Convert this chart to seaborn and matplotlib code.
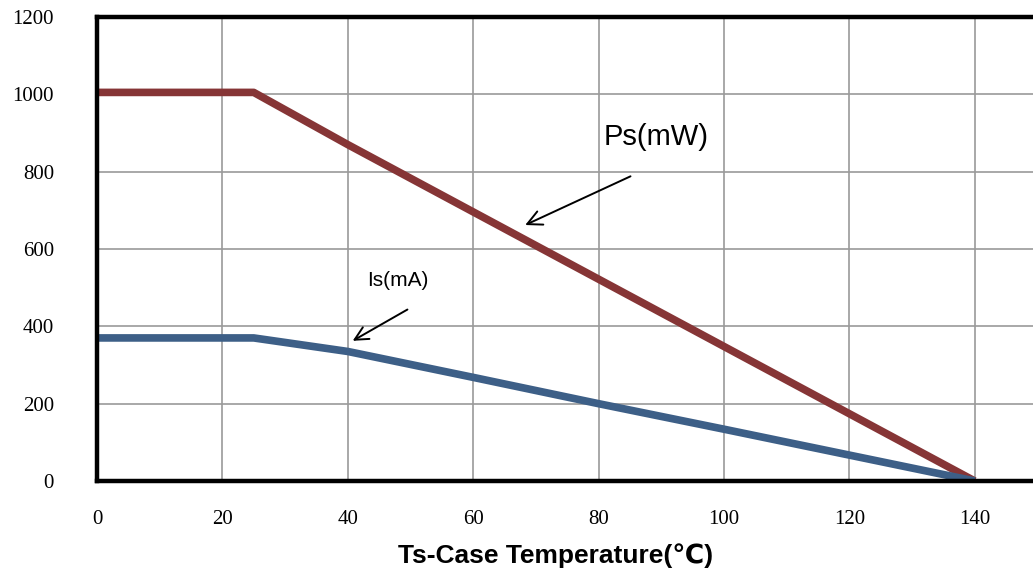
import numpy as np
import pandas as pd
import seaborn as sns
import matplotlib.pyplot as plt

# Data
temp = [0, 25, 40, 60, 80, 100, 120, 140]
ps_mw = [1005, 1005, 870, 696, 522, 348, 174, 0]
is_ma = [370, 370, 335, 268, 200, 134, 67, 0]

x_ticks = [0, 20, 40, 60, 80, 100, 120, 140]
y_ticks = [0, 200, 400, 600, 800, 1000, 1200]

PS_COLOR = "#863536"
IS_COLOR = "#3d5f87"

df = pd.DataFrame({"temp": temp, "Ps": ps_mw, "Is": is_ma})

sns.set_style("white")
plt.rcParams["font.family"] = ["Liberation Sans", "DejaVu Sans"]
plt.rcParams["text.color"] = "black"
plt.rcParams["xtick.color"] = "black"
plt.rcParams["ytick.color"] = "black"

fig = plt.figure(figsize=(10.33, 5.79), dpi=100)
ax = fig.add_axes([97 / 1033, 1 - 481 / 579, 1 - 97 / 1033, (481 - 17) / 579])

# grid first so the curves sit on top
ax.set_xticks(x_ticks)
ax.set_yticks(y_ticks)
ax.grid(True, color="#9a9a9a", linewidth=1.2)
ax.set_axisbelow(True)

sns.lineplot(data=df, x="temp", y="Ps", ax=ax, color=PS_COLOR, linewidth=5.5,
             solid_capstyle="butt")
sns.lineplot(data=df, x="temp", y="Is", ax=ax, color=IS_COLOR, linewidth=5.5,
             solid_capstyle="butt")

ax.set_xlim(0, 149.3)
ax.set_ylim(0, 1200)

for side in ["left", "top", "bottom"]:
    ax.spines[side].set_color("black")
    ax.spines[side].set_linewidth(3.2)
    ax.spines[side].set_zorder(5)
ax.spines["right"].set_visible(False)

ax.tick_params(axis="both", length=0, labelcolor="black")
ax.tick_params(axis="x", pad=21)
ax.tick_params(axis="y", pad=31)
ax.set_xticklabels([str(t) for t in x_ticks], fontsize=15, family="Liberation Serif")
ax.set_yticklabels([str(t) for t in y_ticks], fontsize=15, family="Liberation Serif")
ax.set_xlabel("")
ax.set_ylabel("")

# curve labels with arrows
ax.annotate("", xy=(67.9, 659), xytext=(85.5, 791),
            arrowprops=dict(arrowstyle="->", color="black", lw=1.4, mutation_scale=26))
ax.text(89.2, 889, "Ps(mW)", fontsize=21, ha="center", va="center", color="black")

ax.annotate("", xy=(40.4, 359), xytext=(49.9, 447),
            arrowprops=dict(arrowstyle="->", color="black", lw=1.4, mutation_scale=24))
ax.text(48.0, 519, "Is(mA)", fontsize=15, ha="center", va="center", color="black")

fig.text(556 / 1033, 1 - 556 / 579, "Ts-Case Temperature(\u2103)", fontsize=19,
         fontweight="bold", ha="center", va="center", color="black",
         family=["Liberation Sans", "DejaVu Sans"])

fig.savefig("out.png", dpi=100)
plt.close(fig)
